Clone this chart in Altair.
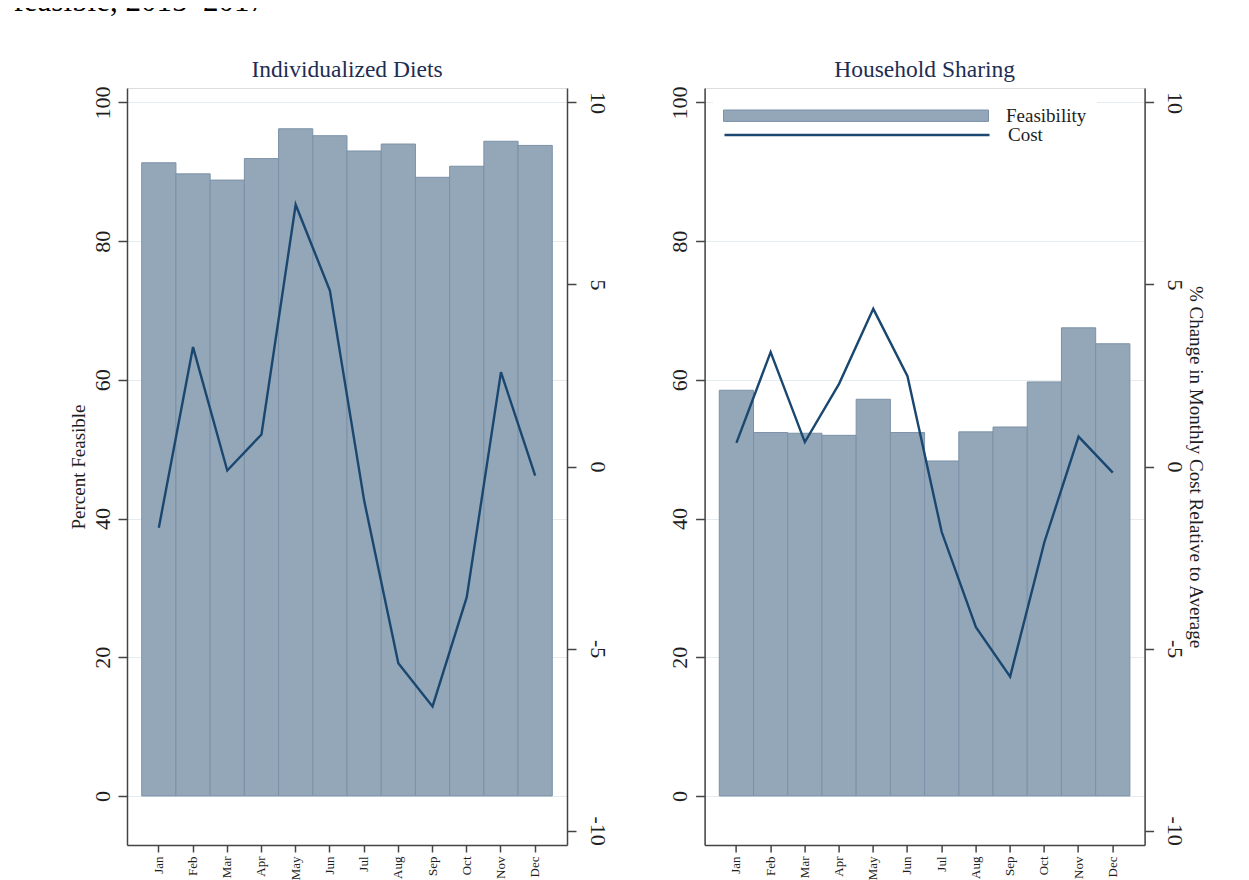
import altair as alt
import pandas as pd

months = ["Jan", "Feb", "Mar", "Apr", "May", "Jun", "Jul", "Aug", "Sep", "Oct", "Nov", "Dec"]
indiv_feasible = [91.3, 89.7, 88.8, 91.9, 96.2, 95.2, 93.0, 94.0, 89.2, 90.8, 94.4, 93.8]
indiv_cost = [-1.68, 3.28, -0.11, 0.88, 7.19, 4.83, -0.93, -5.40, -6.59, -3.59, 2.59, -0.25]
house_feasible = [58.5, 52.4, 52.3, 52.0, 57.2, 52.4, 48.3, 52.5, 53.2, 59.7, 67.5, 65.2]
house_cost = [0.65, 3.14, 0.67, 2.27, 4.33, 2.48, -1.80, -4.41, -5.77, -2.08, 0.82, -0.17]
left_ticks = [0, 20, 40, 60, 80, 100]
right_ticks = [-10, -5, 0, 5, 10]

SERIF = "Liberation Serif"
BAR_FILL = "#94a7b9"
BAR_STROKE = "#7b91a7"
NAVY = "#1a476f"
AX = "#444444"
GRID = "#e4ecf0"
TXT = "#1e1e1e"
TITLE_C = "#1e2d52"

W, H = 440, 757
# legend swatches: symbol size 400 -> 10 px per path unit, swatch 265 px wide
BAR_SWATCH = "M-1,-0.57H25.5V0.57H-1Z"
LINE_SWATCH = "M-1,0H25.5"


def panel(title, feas, cost, left_title, right_title, legend):
    df = pd.DataFrame({"Month": months, "Feasible": feas, "Cost": cost,
                       "s1": "Feasibility", "s2": "Cost"})
    base = alt.Chart(df)
    x = alt.X("Month:N", sort=months,
              scale=alt.Scale(paddingInner=0, paddingOuter=0.43),
              axis=alt.Axis(title=None, labelAngle=270, labelFont=SERIF, labelFontSize=13,
                            labelColor=TXT, tickColor=AX, tickSize=7, tickWidth=1.5,
                            domainColor=AX, domainWidth=1.5, labelPadding=4, grid=False))
    yl = alt.Y("Feasible:Q",
               scale=alt.Scale(domain=[-7.07, 102.08], nice=False, zero=False),
               axis=alt.Axis(values=left_ticks, orient="left", grid=True, gridColor=GRID,
                             gridWidth=1.2, labelAngle=270, labelAlign="center",
                             labelBaseline="bottom", labelFont=SERIF, labelFontSize=22,
                             labelColor=TXT, labelPadding=4, tickSize=9, tickWidth=1.5,
                             tickColor=AX, domainColor=AX, domainWidth=1.5,
                             title=left_title, titleFont=SERIF, titleFontSize=19,
                             titleFontWeight="normal", titleColor=TXT, titlePadding=3))
    yr = alt.Y("Cost:Q",
               scale=alt.Scale(domain=[-10.395, 10.395], nice=False, zero=False),
               axis=alt.Axis(values=right_ticks, orient="right", grid=False,
                             labelExpr="'' + datum.value",
                             labelAngle=90, labelAlign="center", labelBaseline="bottom",
                             labelFont=SERIF, labelFontSize=22, labelColor=TXT,
                             labelPadding=9, tickSize=9, tickWidth=1.5, tickColor=AX,
                             domainColor=AX, domainWidth=1.5,
                             title=right_title, titleFont=SERIF, titleFontSize=19,
                             titleFontWeight="normal", titleColor=TXT, titlePadding=0))
    if legend:
        bars = base.mark_bar(stroke=BAR_STROKE, strokeWidth=1).encode(
            x=x, y=yl,
            fill=alt.Fill("s1:N", scale=alt.Scale(domain=["Feasibility"], range=[BAR_FILL]),
                          legend=alt.Legend(orient="none", legendX=8.4, legendY=7.2,
                                            title=None, symbolType=BAR_SWATCH,
                                            symbolSize=400, symbolStrokeColor=BAR_STROKE,
                                            symbolStrokeWidth=1, symbolOpacity=1,
                                            labelFont=SERIF, labelFontSize=19,
                                            labelColor=TXT, labelOffset=262,
                                            labelBaseline="middle",
                                            fillColor="white", padding=10)))
        line = base.mark_line(strokeWidth=2.4, strokeJoin="miter").encode(
            x=alt.X("Month:N", sort=months), y=yr,
            stroke=alt.Stroke("s2:N", scale=alt.Scale(domain=["Cost"], range=[NAVY]),
                              legend=alt.Legend(orient="none", legendX=18.4, legendY=35.5,
                                                title=None, symbolType=LINE_SWATCH,
                                                symbolSize=400, symbolStrokeWidth=2.4,
                                                symbolOpacity=1,
                                                labelFont=SERIF, labelFontSize=19,
                                                labelColor=TXT, labelOffset=262,
                                                labelBaseline="middle", padding=0)))
    else:
        bars = base.mark_bar(fill=BAR_FILL, stroke=BAR_STROKE, strokeWidth=1).encode(x=x, y=yl)
        line = base.mark_line(stroke=NAVY, strokeWidth=2.4, strokeJoin="miter").encode(
            x=alt.X("Month:N", sort=months), y=yr)
    return alt.layer(bars, line).resolve_scale(y="independent").properties(
        width=W, height=H,
        title=alt.Title(title, font=SERIF, fontSize=23.5, fontWeight="normal", color=TITLE_C,
                        anchor="middle", offset=4))


left = panel("Individualized Diets", indiv_feasible, indiv_cost, "Percent Feasible", None, False)
right = panel("Household Sharing", house_feasible, house_cost, None,
              "% Change in Monthly Cost Relative to Average", True)

chart = alt.hconcat(left, right, spacing=137.6, bounds="flush").resolve_scale(
    fill="independent", stroke="independent").resolve_legend(
    fill="independent", stroke="independent").properties(
    title=alt.Title("feasible, 2015–2017", font=SERIF, fontSize=31, fontWeight="normal",
                    color="#000000", anchor="start", offset=40.3, dx=-55),
    padding={"left": 5, "top": -23, "right": 5, "bottom": 5},
).configure_view(strokeWidth=0).configure(background="white")

chart.save("out.html", embed_options={"renderer": "svg", "actions": False})
